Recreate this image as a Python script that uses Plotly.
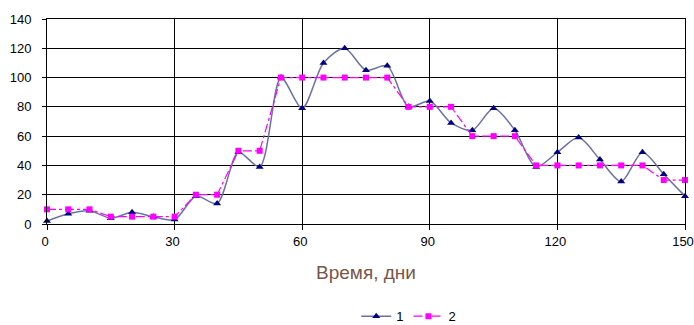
import plotly.graph_objects as go

days = [0, 5, 10, 15, 20, 25, 30, 35, 40, 45, 50, 55, 60, 65, 70, 75, 80, 85, 90, 95,
        100, 105, 110, 115, 120, 125, 130, 135, 140, 145, 150]
series1 = [2, 7, 9, 4, 8, 5, 3, 19, 14, 49, 39, 100, 79, 110, 120, 105, 108, 80, 84, 69,
           64, 79, 64, 39, 49, 59, 44, 29, 49, 34, 19]
series2 = [10, 10, 10, 5, 5, 5, 5, 20, 20, 50, 50, 100, 100, 100, 100, 100, 100, 80, 80, 80,
           60, 60, 60, 40, 40, 40, 40, 40, 40, 30, 30]
x_ticks = [0, 30, 60, 90, 120, 150]
y_ticks = [0, 20, 40, 60, 80, 100, 120, 140]

fig = go.Figure()
fig.add_trace(go.Scatter(
    x=days, y=series1, name="1", mode="lines+markers", cliponaxis=False,
    line=dict(color="#6b70a8", width=1.5, shape="spline", smoothing=0.8),
    marker=dict(symbol="triangle-up", color="#000080", size=7),
))
fig.add_trace(go.Scatter(
    x=days, y=series2, name="2", mode="lines+markers", cliponaxis=False,
    line=dict(color="#ff00ff", width=1.2, dash="dashdot"),
    marker=dict(symbol="square", color="#ff00ff", size=6),
))

fig.update_layout(
    width=694, height=325,
    margin=dict(l=47, r=9, t=19, b=101, autoexpand=False),
    plot_bgcolor="white", paper_bgcolor="white",
    font=dict(family="Arial, Liberation Sans, sans-serif", size=13, color="black"),
    showlegend=True,
    legend=dict(orientation="h", x=0.567, xanchor="center", y=-0.45, yanchor="middle",
                font=dict(size=13), bgcolor="rgba(0,0,0,0)"),
    xaxis=dict(
        range=[0, 150], tickvals=x_ticks, showgrid=True, gridcolor="black", gridwidth=1,
        showline=True, linecolor="black", linewidth=1, mirror=True, zeroline=False,
        ticks="outside", ticklen=5, tickcolor="black", automargin=False,
        ticklabeloverflow="allow", ticklabelshift=-2,
        title=dict(text="Время, дни", font=dict(size=19, color="#7a5648"), standoff=18),
    ),
    yaxis=dict(
        range=[0, 140], tickvals=y_ticks, showgrid=True, gridcolor="black", gridwidth=1,
        showline=True, linecolor="black", linewidth=1, mirror=True, zeroline=False,
        ticks="outside", ticklen=4, tickcolor="black", automargin=False,
        ticklabelstandoff=8,
    ),
)

fig.write_html("out.html", config={"displayModeBar": False},
               post_script="document.body.style.margin='0';")
